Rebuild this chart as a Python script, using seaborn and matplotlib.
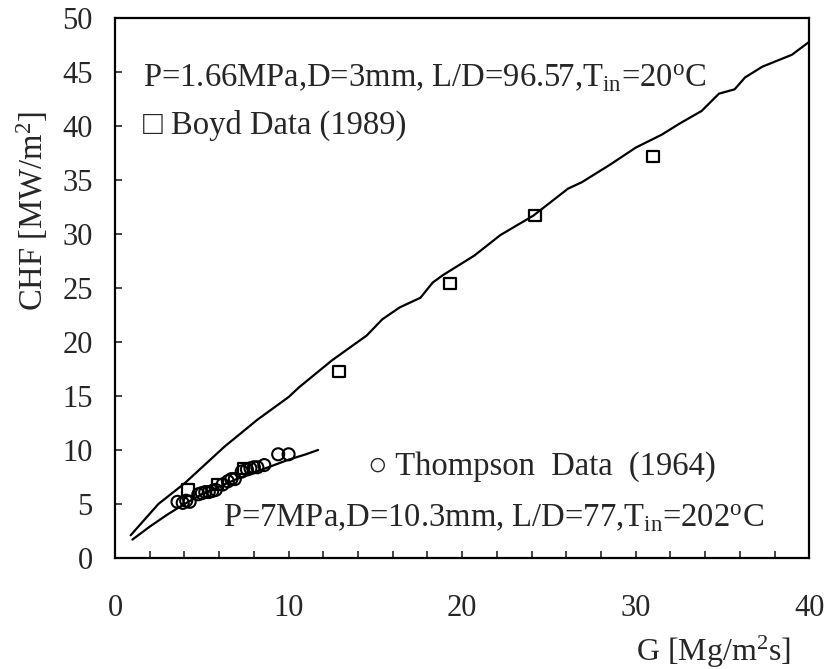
import numpy as np
import pandas as pd
import matplotlib
matplotlib.use("Agg")
import matplotlib.pyplot as plt
import seaborn as sns
from matplotlib.ticker import MultipleLocator

# ---- data ----
upper_G = [0.9, 2.5, 4.0, 6.3, 8.2, 10.0, 10.6, 12.5, 14.5, 15.4, 16.4, 17.6, 18.3, 18.9,
           20.7, 22.2, 24.1, 26.1, 26.9, 28.5, 30.0, 31.5, 32.5, 33.8, 34.8, 35.7, 36.3,
           37.3, 39.0, 40.0]
upper_CHF = [2.1, 5.0, 6.9, 10.3, 12.8, 14.9, 15.8, 18.3, 20.6, 22.1, 23.2, 24.1, 25.5, 26.2,
             28.0, 29.9, 31.7, 34.2, 34.8, 36.4, 38.0, 39.2, 40.2, 41.4, 43.0, 43.4, 44.5,
             45.5, 46.6, 47.8]

lower_G = [1.0, 2.0, 3.0, 4.0, 5.0, 6.0, 7.0, 8.0, 9.0, 10.0, 11.0, 11.7]
lower_CHF = [1.7, 2.9, 4.0, 5.0, 5.9, 6.6, 7.3, 7.9, 8.5, 9.1, 9.6, 10.0]

boyd_G = [4.2, 5.9, 7.4, 12.9, 19.3, 24.2, 31.0]
boyd_CHF = [6.3, 6.8, 8.3, 17.3, 25.4, 31.7, 37.2]

thompson_G = [3.6, 3.9, 4.1, 4.3, 4.8, 5.0, 5.2, 5.4, 5.6, 5.8, 6.2, 6.5, 6.7, 6.9,
              7.3, 7.6, 7.8, 8.0, 8.2, 8.6, 9.4, 10.0]
thompson_CHF = [5.2, 5.1, 5.3, 5.2, 5.9, 6.0, 6.1, 6.1, 6.2, 6.3, 6.8, 7.1, 7.3, 7.3,
                8.0, 8.2, 8.3, 8.4, 8.4, 8.6, 9.6, 9.6]

x_ticks = [0, 10, 20, 30, 40]
y_ticks = [0, 5, 10, 15, 20, 25, 30, 35, 40, 45, 50]

# ---- style ----
sns.set_style("ticks")
plt.rcParams["font.family"] = ["Liberation Serif", "DejaVu Serif"]
plt.rcParams["mathtext.fontset"] = "custom"
plt.rcParams["mathtext.rm"] = "Liberation Serif"
plt.rcParams["mathtext.it"] = "Liberation Serif:italic"
plt.rcParams["mathtext.bf"] = "Liberation Serif:bold"

fig = plt.figure(figsize=(8.3, 6.69), dpi=100)
ax = fig.add_axes([0.1386, 0.166, 0.8364, 0.807])

up = pd.DataFrame({"G": upper_G, "CHF": upper_CHF})
lo = pd.DataFrame({"G": lower_G, "CHF": lower_CHF})
bd = pd.DataFrame({"G": boyd_G, "CHF": boyd_CHF})
th = pd.DataFrame({"G": thompson_G, "CHF": thompson_CHF})

sns.lineplot(data=up, x="G", y="CHF", ax=ax, color="black", lw=1.6, sort=False, estimator=None)
sns.lineplot(data=lo, x="G", y="CHF", ax=ax, color="black", lw=1.6, sort=False, estimator=None)
sns.scatterplot(data=th, x="G", y="CHF", ax=ax, marker="o", s=75, facecolor="none",
                edgecolor="black", linewidth=1.5, zorder=3)
sns.scatterplot(data=bd, x="G", y="CHF", ax=ax, marker="s", s=65, facecolor="none",
                edgecolor="black", linewidth=1.6, zorder=4)

ax.set_xlim(0, 40)
ax.set_ylim(0, 50)
ax.set_xticks(x_ticks)
ax.set_xticklabels([str(v) for v in x_ticks])
ax.set_yticks(y_ticks)
ax.set_yticklabels([str(v) for v in y_ticks])
ax.xaxis.set_minor_locator(MultipleLocator(2))
ax.tick_params(axis="x", which="both", direction="in", length=5, width=1.2,
               labelsize=22, pad=26)
ax.tick_params(axis="y", which="major", direction="in", length=5, width=1.2,
               labelsize=22, pad=16)
for sp in ax.spines.values():
    sp.set_linewidth(1.6)
    sp.set_color("black")

ax.set_xlabel("G [Mg/m$^{2}$s]", fontsize=23)
ax.xaxis.set_label_coords(0.973, -0.174)
ax.xaxis.label.set_horizontalalignment("right")
ax.xaxis.label.set_verticalalignment("center")
ax.set_ylabel("CHF [MW/m$^{2}$]", fontsize=23.5)
ax.yaxis.set_label_coords(-0.12, 0.643)
ax.yaxis.label.set_verticalalignment("center")

ax.text(1.6, 44.5, r"P=1.66MPa,D=3mm, L/D=96.57,T$_{\mathrm{in}}$=20$^{\mathrm{o}}$C",
        fontsize=23.5, va="center", ha="left")
ax.text(1.6, 40.1, "\u25a1 Boyd Data (1989)", fontsize=23.5, va="center", ha="left")
ax.text(34.6, 8.5, "\u25cb Thompson  Data  (1964)", fontsize=23.5, va="center", ha="right")
ax.text(37.4, 3.7, r"P=7MPa,D=10.3mm, L/D=77,T$_{\mathrm{in}}$=202$^{\mathrm{o}}$C",
        fontsize=23.5, va="center", ha="right")

fig.savefig("out.png", dpi=100)
